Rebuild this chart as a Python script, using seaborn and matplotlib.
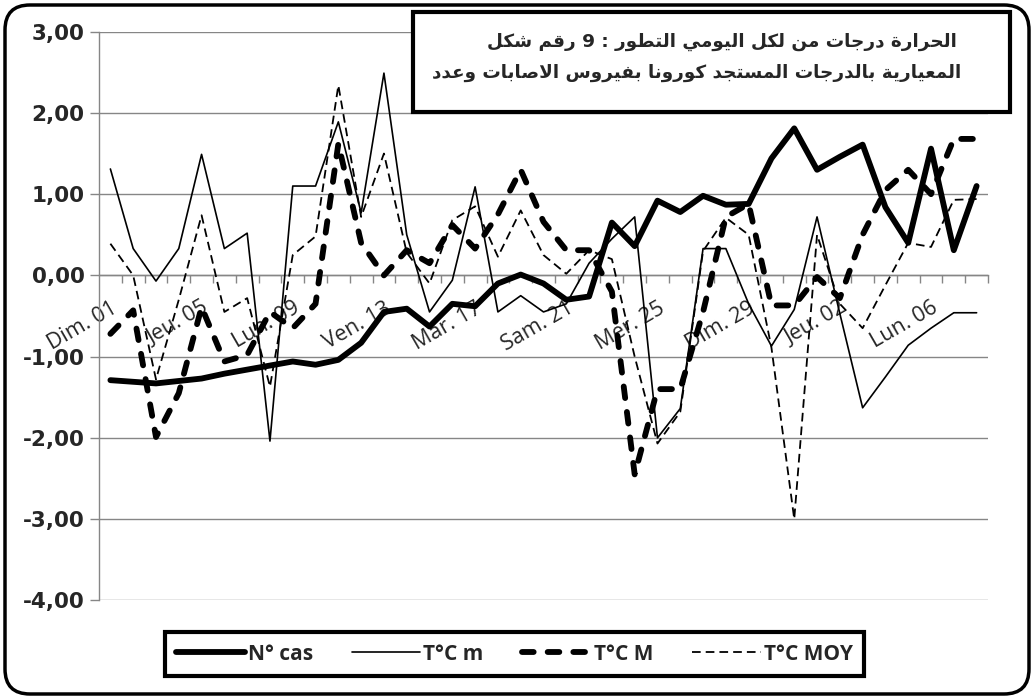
import numpy as np
import pandas as pd
import matplotlib
matplotlib.use("Agg")
import matplotlib.pyplot as plt
from matplotlib.patches import Rectangle, FancyBboxPatch
import seaborn as sns

# ==========================================
# DATA (standardised values, 01/03 -> 08/04)
# ==========================================
days = ["Dim. 01", "Lun. 02", "Mar. 03", "Mer. 04", "Jeu. 05", "Ven. 06", "Sam. 07",
        "Dim. 08", "Lun. 09", "Mar. 10", "Mer. 11", "Jeu. 12", "Ven. 13", "Sam. 14",
        "Dim. 15", "Lun. 16", "Mar. 17", "Mer. 18", "Jeu. 19", "Ven. 20", "Sam. 21",
        "Dim. 22", "Lun. 23", "Mar. 24", "Mer. 25", "Jeu. 26", "Ven. 27", "Sam. 28",
        "Dim. 29", "Lun. 30", "Mar. 31", "Mer. 01", "Jeu. 02", "Ven. 03", "Sam. 04",
        "Dim. 05", "Lun. 06", "Mar. 07", "Mer. 08"]

n_cas = [-1.29, -1.31, -1.33, -1.30, -1.27, -1.21, -1.16, -1.11, -1.06, -1.10,
         -1.04, -0.83, -0.45, -0.41, -0.63, -0.35, -0.38, -0.10, 0.01, -0.10,
         -0.30, -0.26, 0.65, 0.36, 0.92, 0.78, 0.98, 0.87, 0.88, 1.44,
         1.81, 1.30, 1.46, 1.61, 0.84, 0.40, 1.56, 0.31, 1.10]

t_min = [1.31, 0.33, -0.07, 0.33, 1.49, 0.33, 0.52, -2.04, 1.10, 1.10,
         1.89, 0.77, 2.49, 0.50, -0.45, -0.06, 1.09, -0.45, -0.25, -0.45,
         -0.35, 0.15, 0.45, 0.72, -2.00, -1.64, 0.33, 0.33, -0.35, -0.87,
         -0.42, 0.72, -0.47, -1.63, -1.25, -0.86, -0.65, -0.46, -0.46]

t_max = [-0.72, -0.43, -1.99, -1.45, -0.39, -1.06, -0.98, -0.45, -0.65, -0.35,
         1.62, 0.40, 0.00, 0.31, 0.15, 0.62, 0.33, 0.75, 1.30, 0.66,
         0.31, 0.31, -0.20, -2.45, -1.40, -1.40, -0.45, 0.72, 0.88, -0.37,
         -0.37, -0.02, -0.28, 0.50, 1.05, 1.30, 1.00, 1.68, 1.68]

t_moy = [0.39, 0.00, -1.28, -0.30, 0.74, -0.45, -0.28, -1.37, 0.25, 0.48,
         2.34, 0.72, 1.50, 0.28, -0.10, 0.68, 0.85, 0.23, 0.80, 0.25,
         0.02, 0.31, 0.20, -1.00, -2.07, -1.68, 0.30, 0.71, 0.50, -0.89,
         -3.00, 0.50, -0.35, -0.65, -0.12, 0.40, 0.35, 0.93, 0.94]

series_names = ["N° cas", "T°C m", "T°C M", "T°C MOY"]
y_ticks = [-4, -3, -2, -1, 0, 1, 2, 3]

title_lines = ["شكل رقم 9 : التطور اليومي لكل من درجات الحرارة",
               "وعدد الاصابات بفيروس كورونا المستجد بالدرجات المعيارية"]

# ==========================================
# ARABIC SHAPING (presentation forms)
# ==========================================
FORMS = {
    "ا": ("\uFE8D", "\uFE8E", None, None),
    "ب": ("\uFE8F", "\uFE90", "\uFE91", "\uFE92"),
    "ة": ("\uFE93", "\uFE94", None, None),
    "ت": ("\uFE95", "\uFE96", "\uFE97", "\uFE98"),
    "ج": ("\uFE9D", "\uFE9E", "\uFE9F", "\uFEA0"),
    "ح": ("\uFEA1", "\uFEA2", "\uFEA3", "\uFEA4"),
    "د": ("\uFEA9", "\uFEAA", None, None),
    "ر": ("\uFEAD", "\uFEAE", None, None),
    "س": ("\uFEB1", "\uFEB2", "\uFEB3", "\uFEB4"),
    "ش": ("\uFEB5", "\uFEB6", "\uFEB7", "\uFEB8"),
    "ص": ("\uFEB9", "\uFEBA", "\uFEBB", "\uFEBC"),
    "ط": ("\uFEC1", "\uFEC2", "\uFEC3", "\uFEC4"),
    "ع": ("\uFEC9", "\uFECA", "\uFECB", "\uFECC"),
    "ف": ("\uFED1", "\uFED2", "\uFED3", "\uFED4"),
    "ق": ("\uFED5", "\uFED6", "\uFED7", "\uFED8"),
    "ك": ("\uFED9", "\uFEDA", "\uFEDB", "\uFEDC"),
    "ل": ("\uFEDD", "\uFEDE", "\uFEDF", "\uFEE0"),
    "م": ("\uFEE1", "\uFEE2", "\uFEE3", "\uFEE4"),
    "ن": ("\uFEE5", "\uFEE6", "\uFEE7", "\uFEE8"),
    "و": ("\uFEED", "\uFEEE", None, None),
    "ي": ("\uFEF1", "\uFEF2", "\uFEF3", "\uFEF4"),
    "لا": ("\uFEFB", "\uFEFC", None, None),
}


def shape_word(word):
    chars = []
    i = 0
    while i < len(word):
        if word[i] == "ل" and i + 1 < len(word) and word[i + 1] == "ا":
            chars.append("لا")
            i += 2
        else:
            chars.append(word[i])
            i += 1
    out = []
    for k, c in enumerate(chars):
        if c not in FORMS:
            out.append(c)
            continue
        f = FORMS[c]
        prev = chars[k - 1] if k > 0 else None
        nxt = chars[k + 1] if k + 1 < len(chars) else None
        jp = prev in FORMS and FORMS[prev][2] is not None
        jn = f[2] is not None and nxt in FORMS
        if jp and jn:
            out.append(f[3])
        elif jp:
            out.append(f[1])
        elif jn:
            out.append(f[2])
        else:
            out.append(f[0])
    # glyphs of a word go right to left
    return "".join(reversed(out))


def shape_line(line):
    # the source chart keeps the words in left-to-right order
    return " ".join(shape_word(w) for w in line.split(" "))


# ==========================================
# PLOT
# ==========================================
sns.set_style("white")
plt.rcParams["font.family"] = ["DejaVu Sans"]

W, H = 1034, 699
fig = plt.figure(figsize=(W / 100, H / 100), dpi=100)
ax = fig.add_axes([99 / W, 1 - 600.3 / H, (988 - 99) / W, (600.3 - 31.7) / H])

df = pd.DataFrame({"idx": np.arange(len(days)), "N° cas": n_cas, "T°C m": t_min,
                   "T°C M": t_max, "T°C MOY": t_moy})

sns.lineplot(data=df, x="idx", y="N° cas", ax=ax, color="black", lw=4.2,
             solid_capstyle="round", solid_joinstyle="round", label=series_names[0], zorder=3)
sns.lineplot(data=df, x="idx", y="T°C m", ax=ax, color="black", lw=1.2,
             label=series_names[1], zorder=3)
sns.lineplot(data=df, x="idx", y="T°C M", ax=ax, color="black", lw=4.2,
             linestyle=(0, (2.0, 2.4)), dash_capstyle="round", label=series_names[2], zorder=3)
sns.lineplot(data=df, x="idx", y="T°C MOY", ax=ax, color="black", lw=1.3,
             linestyle=(0, (4.8, 2.8)), label=series_names[3], zorder=3)

grey = "#868686"
ax.set_xlim(-0.5, len(days) - 0.5)
ax.set_ylim(-4, 3)
ax.set_xlabel("")
ax.set_ylabel("")

for side in ["top", "right"]:
    ax.spines[side].set_visible(False)
ax.spines["left"].set_color(grey)
ax.spines["left"].set_linewidth(1)
ax.spines["bottom"].set_position(("data", 0))
ax.spines["bottom"].set_color(grey)
ax.spines["bottom"].set_linewidth(1)

ax.yaxis.grid(True, color=grey, lw=1)
ax.xaxis.grid(False)
ax.set_yticks(y_ticks)
ax.set_yticklabels([f"{v:.2f}".replace(".", ",") for v in y_ticks],
                   fontsize=15.5, fontweight="bold")
ax.tick_params(axis="y", length=6.5, width=1, color=grey, pad=4, left=True)

ax.set_xticks(np.arange(0, len(days), 4))
ax.set_xticklabels(days[::4], rotation=30, ha="right", va="top",
                   rotation_mode="anchor", fontsize=15.5, family="Open Sans")
ax.set_xticks(np.arange(0.5, len(days), 1), minor=True)
ax.tick_params(axis="x", which="major", length=0, pad=16, bottom=True)
ax.tick_params(axis="x", which="minor", length=6, width=1, color=grey,
               direction="out", bottom=True)

# legend box at the bottom
handles, labels = ax.get_legend_handles_labels()
ax.get_legend().remove()
leg = fig.legend(handles, labels, loc="center", bbox_to_anchor=(514.5 / W, 1 - 654 / H),
                 ncol=4, frameon=True, fancybox=False, edgecolor="black", framealpha=1,
                 prop={"family": "Open Sans", "weight": "bold", "size": 15},
                 handlelength=3.3, handletextpad=0.15, columnspacing=1.85,
                 borderpad=0.55)
leg.get_frame().set_linewidth(3)

# title box
fig.patches.append(Rectangle((413 / W, 1 - 112 / H), (1010 - 413) / W, 100 / H,
                             transform=fig.transFigure, facecolor="white",
                             edgecolor="black", lw=3, zorder=4))
fig.text(722 / W, 1 - 42 / H, shape_line(title_lines[0]), ha="center", va="center",
         fontsize=13.2, fontweight="bold", zorder=5)
fig.text(697 / W, 1 - 73 / H, shape_line(title_lines[1]), ha="center", va="center",
         fontsize=13.2, fontweight="bold", zorder=5)

# rounded outer frame
fig.patches.append(FancyBboxPatch((0.05, 0.05), (W - 10) / 100, (H - 10) / 100,
                                  boxstyle="round,pad=0,rounding_size=0.25",
                                  transform=fig.dpi_scale_trans, facecolor="none",
                                  edgecolor="black", lw=2.5, zorder=6))

fig.savefig("out.png", dpi=100)
